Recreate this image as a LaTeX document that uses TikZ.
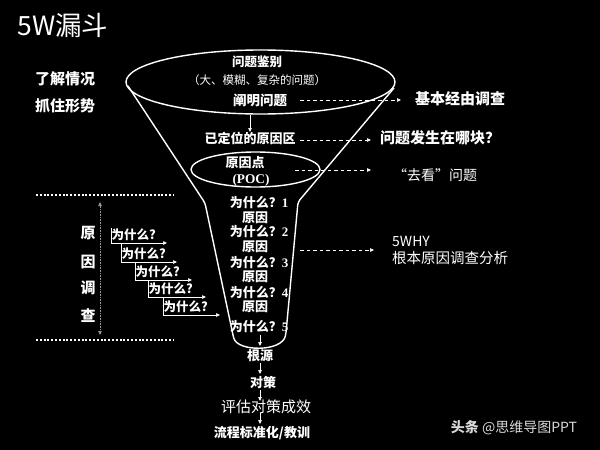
\documentclass[tikz,border=0pt]{standalone}
\usepackage{fontspec}
\setmainfont{Noto Sans CJK SC}
\newfontfamily\serifnum{Liberation Serif}
\usetikzlibrary{arrows.meta}
\tikzset{
  bt/.style={inner sep=0pt, text=white, font=\fontsize{#1}{#1}\selectfont\bfseries},
  rt/.style={inner sep=0pt, text=white, font=\fontsize{#1}{#1}\selectfont},
  funnel/.style={draw=white, line width=1.4pt},
  dasharrow/.style={draw=white, line width=0.7pt, dash pattern=on 3.5pt off 3pt, -{Triangle[length=4pt,width=3.5pt]}},
  solidarrow/.style={draw=white, line width=0.7pt, -{Triangle[length=4pt,width=3.5pt]}},
  dotline/.style={draw=white, line width=2pt, dash pattern=on 2pt off 1.8pt},
}
\begin{document}
\begin{tikzpicture}[x=1pt,y=-1pt]
\useasboundingbox[fill=black] (0,0) rectangle (600,450);

% title and left texts
\node[rt=26.5] (title) at (63,25) {5W漏斗};
\node[bt=15] (liaojie) at (65,79) {了解情况};
\node[bt=15] (zhuazhu) at (65,106) {抓住形势};

% funnel
\draw[funnel] (260.5,82) ellipse [x radius=134.5, y radius=32];
\draw[funnel, rounded corners=3pt] (128,86) -- (205,203) -- (233,335)
  .. controls (237,352) and (282,352) .. (286,333) -- (298,202) -- (394,88);
\draw[funnel] (255.5,169.5) ellipse [x radius=64.5, y radius=17.5];

% texts in funnel
\node[bt=12.5] (jianbie) at (257,62) {问题鉴别};
\node[rt=11.5] (mohu) at (257,80) {（大、模糊、复杂的问题）};
\node[bt=13.5] (chanming) at (260,100) {阐明问题};
\node[bt=13] (dingwei) at (250,138) {已定位的原因区};
\node[bt=13] (yuanyindian) at (245,163) {原因点};
\node[inner sep=0pt, text=white, font=\serifnum\fontsize{13.3}{13.3}\selectfont\bfseries] (poc) at (251,180) {(POC)};

\foreach \n/\y in {1/203,2/232,3/263,4/293,5/327}{
  \node[bt=13] (w\n) at (259,\y) {为什么？{\serifnum\bfseries\n}};
}
\foreach \n/\y in {1/218,2/247,3/277,4/307}{
  \node[bt=13] (y\n) at (255,\y) {原因};
}

\coordinate (a0s) at (250,115);
\coordinate (a0e) at (250,132);
\draw[solidarrow] (a0s) -- (a0e);

% right side texts
\node[bt=15] (jiben) at (460,99) {基本经由调查};
\node[bt=15] (fasheng) at (440,138) {问题发生在哪块？};
\node[rt=14] (qukan) at (435,175) {“去看”问题};
\node[rt=14, anchor=west] (fivewhy) at (392,241) {5WHY};
\node[rt=14.5, anchor=west] (genben) at (392,258) {根本原因调查分析};

\coordinate (d1s) at (300,100); \coordinate (d1e) at (401,100);
\coordinate (d2s) at (300,140); \coordinate (d2e) at (371,140);
\coordinate (d3s) at (295,170); \coordinate (d3e) at (371,170);
\coordinate (d4s) at (300,250); \coordinate (d4e) at (374,250);
\draw[dasharrow] (d1s) -- (d1e);
\draw[dasharrow] (d2s) -- (d2e);
\draw[dasharrow] (d3s) -- (d3e);
\draw[dasharrow] (d4s) -- (d4e);

% bottom chain
\node[bt=13] (genyuan) at (260,356) {根源};
\node[bt=13] (duice) at (263,382) {对策};
\node[rt=15] (pinggu) at (266,407) {评估对策成效};
\node[bt=13] (liucheng) at (262,433) {流程标准化/教训};
\coordinate (b1s) at (260,335); \coordinate (b1e) at (260,346);
\coordinate (b2s) at (260,363); \coordinate (b2e) at (260,374);
\coordinate (b3s) at (260,390); \coordinate (b3e) at (260,401);
\coordinate (b4s) at (260,413); \coordinate (b4e) at (260,424);
\draw[solidarrow] (b1s) -- (b1e);
\draw[solidarrow] (b2s) -- (b2e);
\draw[solidarrow] (b3s) -- (b3e);
\draw[solidarrow] (b4s) -- (b4e);

% watermark
\node[inner sep=0pt, text=white!85!black, font=\fontsize{14}{14}\selectfont] (wm) at (514,428) {{\bfseries 头条} @思维导图PPT};

% left investigation block
\coordinate (l1s) at (36,195); \coordinate (l1e) at (173,195);
\coordinate (l2s) at (36,340); \coordinate (l2e) at (173,340);
\draw[dotline] (l1s) -- (l1e);
\draw[dotline] (l2s) -- (l2e);
\coordinate (vts) at (100,202); \coordinate (vte) at (100,335);
\draw[draw=white!60!black, line width=0.6pt, densely dotted, {Triangle[length=4pt,width=3.5pt]}-{Triangle[length=4pt,width=3.5pt]}] (vts) -- (vte);
\node[bt=15] (c1) at (88,233) {原};
\node[bt=15] (c2) at (88,262) {因};
\node[bt=15] (c3) at (88,288) {调};
\node[bt=15] (c4) at (88,316) {查};

% staircase
\foreach \k/\x/\t/\b/\e/\ty in {1/111/228/243/167/235, 2/121/243/262/177/254, 3/135/262/280/192/272, 4/148/280/297/206/289, 5/163/297/315/220/307}{
  \coordinate (s\k t) at (\x,\t);
  \coordinate (s\k c) at (\x,\b);
  \coordinate (s\k e) at (\e,\b);
  \draw[draw=white, line width=0.7pt, -{Triangle[length=4pt,width=3.5pt]}] (s\k t) -- (s\k c) -- (s\k e);
  \node[bt=12.5, anchor=west] (q\k) at (\x+0.5,\ty) {为什么?};
}
\end{tikzpicture}
\end{document}
